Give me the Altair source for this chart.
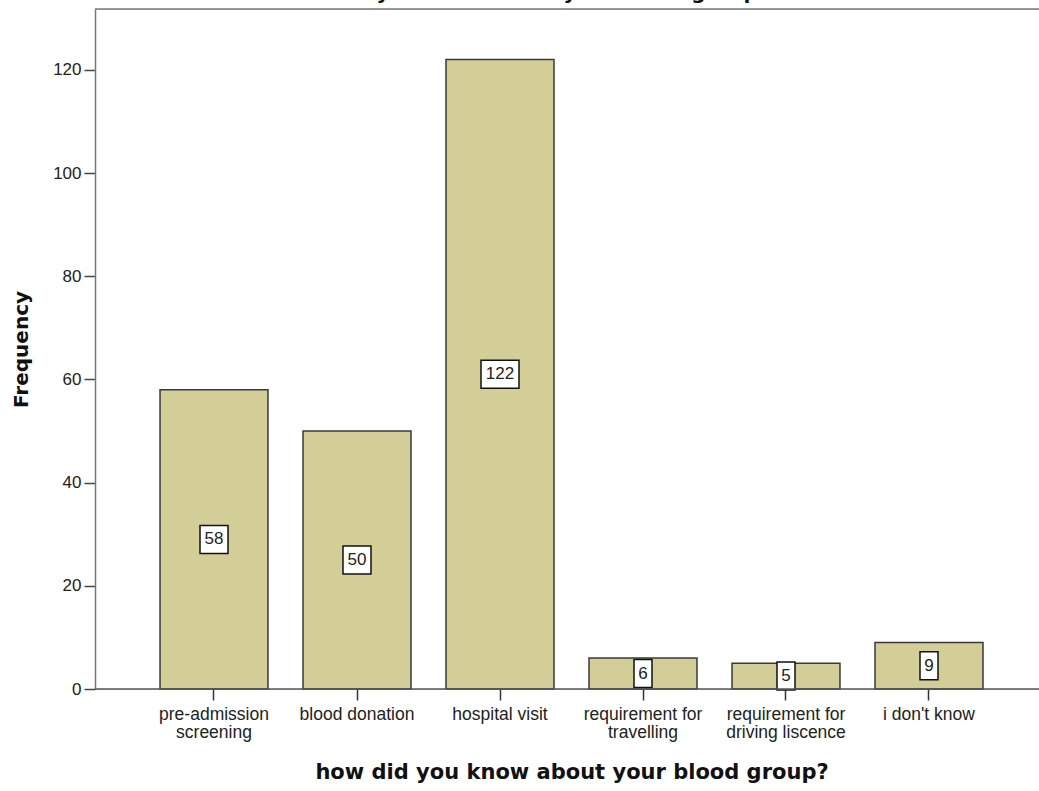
import altair as alt
import pandas as pd

# Survey answers: how respondents learned their blood group
categories = [
    "pre-admission|screening",
    "blood donation",
    "hospital visit",
    "requirement for|travelling",
    "requirement for|driving liscence",
    "i don't know",
]
frequencies = [58, 50, 122, 6, 5, 9]

y_ticks = [0, 20, 40, 60, 80, 100, 120]

df = pd.DataFrame({"answer": categories, "count": frequencies})

PLOT_W, PLOT_H = 944, 680
Y_MAX = 131.8
px_per_unit = PLOT_H / Y_MAX
box_half = 14 / px_per_unit  # half height of value box, in data units

x_scale = alt.Scale(
    domain=categories,
    range=[47.5, 905.5],
    paddingInner=0.245,
    paddingOuter=0.1225,
)
y_scale = alt.Scale(domain=[0, Y_MAX], nice=False, zero=True)

FONT = "Liberation Sans"
BOLD = "DejaVu Sans"

x_axis = alt.Axis(
    title="how did you know about your blood group?",
    titleFont=BOLD,
    titleFontSize=21,
    titleFontWeight="bold",
    titleColor="#111111",
    titlePadding=21,
    labelExpr="split(datum.label, '|')",
    labelFont=FONT,
    labelFontSize=17.5,
    labelColor="#222222",
    labelLineHeight=18,
    labelAngle=0,
    labelPadding=5,
    tickSize=11,
    tickColor="#333333",
    tickWidth=1.5,
    domain=False,
    grid=False,
)
y_axis = alt.Axis(
    title="Frequency",
    titleFont=BOLD,
    titleFontSize=20,
    titleFontWeight="bold",
    titleColor="#111111",
    titlePadding=21,
    values=y_ticks,
    labelFont=FONT,
    labelFontSize=17,
    labelColor="#222222",
    labelPadding=3,
    tickSize=11,
    tickColor="#444444",
    tickWidth=1.5,
    domainColor="#777777",
    domainWidth=1.5,
    grid=False,
)

base = alt.Chart(df)

bars = base.mark_bar(
    color="#d3ce97", stroke="#3a3a3a", strokeWidth=1.5
).encode(
    x=alt.X("answer:N", scale=x_scale, axis=x_axis, sort=categories),
    y=alt.Y("count:Q", scale=y_scale, axis=y_axis),
)

labelled = base.transform_calculate(
    mid="datum.count / 2",
    lo=f"datum.count / 2 - {box_half}",
    hi=f"datum.count / 2 + {box_half}",
    boxw="8 + 10 * length(toString(datum.count))",
)

boxes = labelled.mark_bar(
    color="white", stroke="#111111", strokeWidth=1.5
).encode(
    x=alt.X("answer:N", scale=x_scale, sort=categories),
    y=alt.Y("lo:Q", scale=y_scale),
    y2="hi:Q",
    size=alt.Size("boxw:Q", scale=None, legend=None),
)

values = labelled.mark_text(
    font=FONT, fontSize=17, color="#222222", baseline="middle", align="center"
).encode(
    x=alt.X("answer:N", scale=x_scale, sort=categories),
    y=alt.Y("mid:Q", scale=y_scale),
    text="count:Q",
)

frame = pd.DataFrame({"k": [0]})

# frame line along the top of the plot area
top_line = alt.Chart(frame).mark_rule(
    color="#777777", strokeWidth=1.5
).encode(x=alt.value(0), x2=alt.value(PLOT_W), y=alt.value(0))

# baseline running the full width of the plot area
base_line = alt.Chart(frame).mark_rule(
    color="#555555", strokeWidth=1.5
).encode(x=alt.value(0), x2=alt.value(PLOT_W), y=alt.value(PLOT_H))

# chart heading sits above the visible area
heading = alt.Chart(pd.DataFrame({"t": ["how did you know about your blood group?"]})).mark_text(
    font=BOLD, fontSize=20, fontWeight="bold", color="#111111",
    align="center", baseline="alphabetic",
).encode(x=alt.value(430), y=alt.value(-10), text="t:N")

chart = alt.layer(bars, boxes, values, top_line, base_line, heading).properties(
    width=PLOT_W,
    height=PLOT_H,
    autosize=alt.AutoSizeParams(type="none"),
    padding={"left": 95, "top": 9, "right": 0, "bottom": 102},
).configure_view(stroke=None).configure(background="white")

chart.save("out.html", embed_options={"renderer": "svg", "actions": False})
